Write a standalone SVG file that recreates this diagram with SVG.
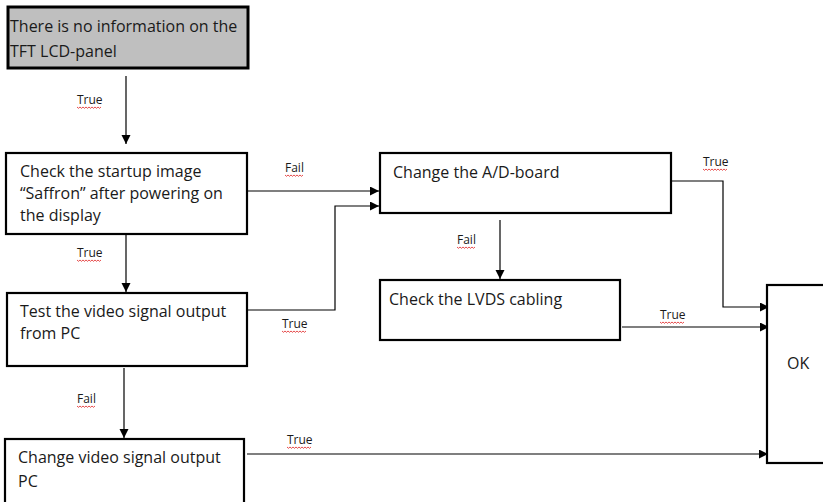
<svg xmlns="http://www.w3.org/2000/svg" xmlns:xlink="http://www.w3.org/1999/xlink" width="823" height="502" viewBox="0 0 823 502">
<style>
.box{fill:#ffffff;stroke:#000;stroke-width:2.2}
.gray{fill:#bfbfbf;stroke:#000;stroke-width:3}
.t{font-family:"Open Sans","Liberation Sans",Arial,sans-serif;font-size:16px;fill:#1a1a1a}
.lbl{font-family:"Open Sans","Liberation Sans",Arial,sans-serif;font-size:12px;fill:#1a1a1a}
.con{fill:none;stroke:#000;stroke-width:1.2}
.sq{fill:none;stroke:#e02020;stroke-width:0.8}
</style>
<defs>
<marker id="ah" markerUnits="userSpaceOnUse" markerWidth="10" markerHeight="10" refX="9" refY="4.5" orient="auto">
<path d="M0,0 L9,4.5 L0,9 z" fill="#000"/>
</marker>
<path id="sqL" d="M0,0 l1.5,1.3 l1.5,-1.3 l1.5,1.3 l1.5,-1.3 l1.5,1.3 l1.5,-1.3 l1.5,1.3 l1.5,-1.3 l1.5,1.3 l1.5,-1.3 l1.5,1.3 l1.5,-1.3 l1.5,1.3 l1.5,-1.3 l1.5,1.3 l1.5,-1.3"/>
<path id="sqS" d="M0,0 l1.5,1.3 l1.5,-1.3 l1.5,1.3 l1.5,-1.3 l1.5,1.3 l1.5,-1.3 l1.5,1.3 l1.5,-1.3 l1.5,1.3 l1.5,-1.3 l1.5,1.3 l1.5,-1.3"/>
</defs>
<rect width="823" height="502" fill="#ffffff"/>

<g id="connectors">
<path class="con" d="M126,76 V144" marker-end="url(#ah)"/>
<path class="con" d="M126,234 V292" marker-end="url(#ah)"/>
<path class="con" d="M124,368 V438" marker-end="url(#ah)"/>
<path class="con" d="M247,191 H379" marker-end="url(#ah)"/>
<path class="con" d="M247,310 H335 V206 H379" marker-end="url(#ah)"/>
<path class="con" d="M500,220 V279" marker-end="url(#ah)"/>
<path class="con" d="M671,181 H723 V307 H769" marker-end="url(#ah)"/>
<path class="con" d="M622,327 H769" marker-end="url(#ah)"/>
<path class="con" d="M247,454 H768" marker-end="url(#ah)"/>
<g id="labels">
<text class="lbl" x="77" y="104">True</text><use class="sq" href="#sqL" x="77" y="107"/>
<text class="lbl" x="77" y="257">True</text><use class="sq" href="#sqL" x="77" y="260"/>
<text class="lbl" x="77" y="403">Fail</text><use class="sq" href="#sqS" x="77" y="406"/>
<text class="lbl" x="285" y="172">Fail</text><use class="sq" href="#sqS" x="285" y="175"/>
<text class="lbl" x="282" y="328">True</text><use class="sq" href="#sqL" x="282" y="331"/>
<text class="lbl" x="457" y="244">Fail</text><use class="sq" href="#sqS" x="457" y="247"/>
<text class="lbl" x="703" y="166">True</text><use class="sq" href="#sqL" x="703" y="169"/>
<text class="lbl" x="660" y="319">True</text><use class="sq" href="#sqL" x="660" y="322"/>
<text class="lbl" x="287" y="444">True</text><use class="sq" href="#sqL" x="287" y="447"/>
</g>
</g>

<g id="n1">
<rect class="gray" x="8" y="7" width="240" height="61"/>
<text class="t" x="10" y="32">There is no information on the</text>
<text class="t" x="10" y="57">TFT LCD-panel</text>
</g>
<g id="n2">
<rect class="box" x="6" y="153" width="241" height="81"/>
<text class="t" x="20" y="177">Check the startup image</text>
<text class="t" x="20" y="199">“Saffron” after powering on</text>
<text class="t" x="20" y="221">the display</text>
</g>
<g id="n3">
<rect class="box" x="7" y="293" width="240" height="73"/>
<text class="t" x="20" y="317">Test the video signal output</text>
<text class="t" x="20" y="339">from PC</text>
</g>
<g id="n4">
<rect class="box" x="380" y="153" width="291" height="60"/>
<text class="t" x="393" y="178">Change the A/D-board</text>
</g>
<g id="n5">
<rect class="box" x="380" y="280" width="240" height="60"/>
<text class="t" x="389" y="305">Check the LVDS cabling</text>
</g>
<g id="n6">
<rect class="box" x="5" y="439" width="239" height="70"/>
<text class="t" x="18" y="463">Change video signal output</text>
<text class="t" x="18" y="487">PC</text>
</g>
<g id="n7">
<rect class="box" x="767" y="285" width="70" height="178"/>
<text class="t" x="787" y="369">OK</text>
</g>
</svg>
